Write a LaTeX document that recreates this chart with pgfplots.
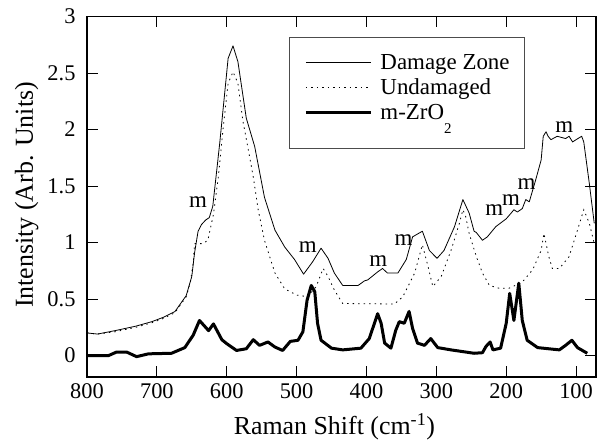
\documentclass[border=0pt]{standalone}
\usepackage{fontspec}
\setmainfont{Liberation Serif}
\usepackage{pgfplots}
\pgfplotsset{compat=1.18}
\begin{document}
\begin{tikzpicture}
\begin{axis}[
  scale only axis, width=509bp, height=360.5bp,
  x dir=reverse, xmin=71.5, xmax=800, ymin=-0.19, ymax=3,
  xtick={100,200,...,800}, ytick={0,0.5,...,3},
  /pgf/number format/assume math mode=true,
  tick label style={font=\fontsize{22.5}{22.5}\selectfont},
  xticklabel style={yshift=-3bp},
  yticklabel style={xshift=-8bp},
  major tick length=11bp,
  every tick/.style={black, line width=0.9bp},
  axis line style={line width=1.6bp},
  xlabel={Raman Shift (cm\textsuperscript{-1})},
  ylabel={Intensity (Arb. Units)},
  label style={font=\fontsize{26}{26}\selectfont},
  xlabel style={at={(axis description cs:0.486,-0.159)}, anchor=base},
  ylabel style={at={(axis description cs:-0.1061,0.505)}, anchor=base},
  legend style={at={(axis description cs:0.397,0.943)}, anchor=north west,
    draw=black!70, line width=0.8bp, inner xsep=15bp, inner ysep=15.3bp,
    font=\fontsize{23}{25}\selectfont, row sep=0bp, column sep=8bp,
    nodes={inner sep=0pt, text height=17bp, text depth=8bp}},
  legend cell align=left,
  legend image code/.code={\draw[#1] (0bp,2.8bp) -- (65bp,2.8bp);},
]
\addplot[black, line width=0.8bp, line join=round] coordinates {
(800,0.20) (785,0.19) (760,0.22) (730,0.26) (707,0.30) (690,0.34) (674,0.39)
(658,0.53) (650,0.70) (646,0.91) (641,1.10) (636,1.16) (630,1.20) (625,1.22)
(620,1.32) (610,1.88) (598,2.63) (591,2.74) (584,2.60) (572,2.10) (560,1.85)
(546,1.40) (531,1.11) (517,0.96) (503,0.85) (490,0.72) (477,0.83) (465,0.95)
(455,0.86) (446,0.73) (434,0.62) (412,0.62) (403,0.66) (398,0.67) (384,0.74)
(377,0.77) (370,0.73) (355,0.73) (343,0.85) (334,1.05) (320,1.10) (310,0.93)
(299,0.86) (289,0.93) (274,1.14) (262,1.38) (253,1.26) (246,1.10) (243,1.09)
(234,1.02) (227,1.05) (215,1.14) (200,1.21) (193,1.26) (189,1.29) (184,1.27)
(177,1.30) (172,1.38) (167,1.36) (158,1.55) (150,1.73) (147,1.94) (143,1.98)
(140,1.94) (136,1.91) (127,1.94) (115,1.92) (110,1.94) (105,1.89) (100,1.91)
(92,1.94) (89,1.89) (81,1.52) (74,1.17)
};
\addlegendentry{Damage Zone}
\addplot[black, line width=0.8bp, dash pattern=on 1.5bp off 4bp] coordinates {
(800,0.20) (785,0.19) (760,0.21) (730,0.25) (707,0.29) (690,0.33) (674,0.38)
(658,0.52) (652,0.65) (648,0.82) (646,0.99) (634,0.99) (627,1.02) (619,1.25)
(612,1.58) (605,2.02) (598,2.41) (591,2.51) (584,2.41) (577,2.08) (570,1.85)
(562,1.58) (555,1.29) (546,1.02) (531,0.73) (517,0.59) (500,0.535) (484,0.52)
(472,0.61) (462,0.77) (455,0.70) (446,0.58) (434,0.46) (431,0.46) (360,0.456)
(348,0.52) (331,0.73) (320,0.98) (312,0.79) (305,0.61) (293,0.70) (279,0.93)
(267,1.17) (262,1.29) (258,1.23) (253,1.08) (243,0.88) (234,0.73) (224,0.62)
(210,0.595) (196,0.595) (177,0.65) (162,0.76) (150,0.93) (146,1.08) (139,0.875)
(134,0.77) (124,0.77) (110,0.875) (98,1.11) (89,1.29) (81,1.17) (74,0.99)
};
\addlegendentry{Undamaged}
\addplot[black, line width=3bp, line join=round,
  legend image post style={yshift=2.7bp}] coordinates {
(800,0.0) (769,0.0) (758,0.03) (743,0.03) (729,-0.01) (712,0.015) (679,0.02)
(660,0.07) (648,0.18) (639,0.31) (631,0.255) (626,0.22) (619,0.28) (607,0.14)
(600,0.105) (586,0.045) (572,0.06) (562,0.14) (553,0.09) (541,0.12) (531,0.075)
(520,0.045) (509,0.125) (498,0.135) (491,0.21) (485,0.49) (479,0.62) (474,0.565)
(470,0.285) (465,0.135) (450,0.065) (434,0.05) (408,0.065) (396,0.15) (384,0.37)
(379,0.285) (374,0.11) (365,0.065) (358,0.225) (353,0.30) (346,0.285) (339,0.39)
(334,0.24) (327,0.11) (317,0.09) (308,0.15) (298,0.07) (279,0.05) (246,0.02)
(234,0.025) (229,0.08) (223,0.12) (219,0.05) (208,0.065) (200,0.285) (195,0.55)
(189,0.31) (182,0.64) (177,0.31) (170,0.135) (155,0.07) (124,0.05) (115,0.09)
(106,0.135) (98,0.07) (84,0.02)
};
\addlegendentry[text depth=13.5bp]{m-ZrO\raisebox{-14bp}{\fontsize{15}{15}\selectfont 2}}
\begin{scope}[every node/.style={font=\fontsize{23}{23}\selectfont, inner sep=0pt}]
\node at (axis cs:641,1.36) {m};
\node at (axis cs:484,0.96) {m};
\node at (axis cs:383,0.835) {m};
\node at (axis cs:347,1.02) {m};
\node at (axis cs:217,1.29) {m};
\node at (axis cs:193,1.376) {m};
\node at (axis cs:171,1.52) {m};
\node at (axis cs:117,2.02) {m};
\end{scope}
\end{axis}
\pgfresetboundingbox
\useasboundingbox (-87bp,-67bp) rectangle (510bp,377bp);
\end{tikzpicture}
\end{document}
